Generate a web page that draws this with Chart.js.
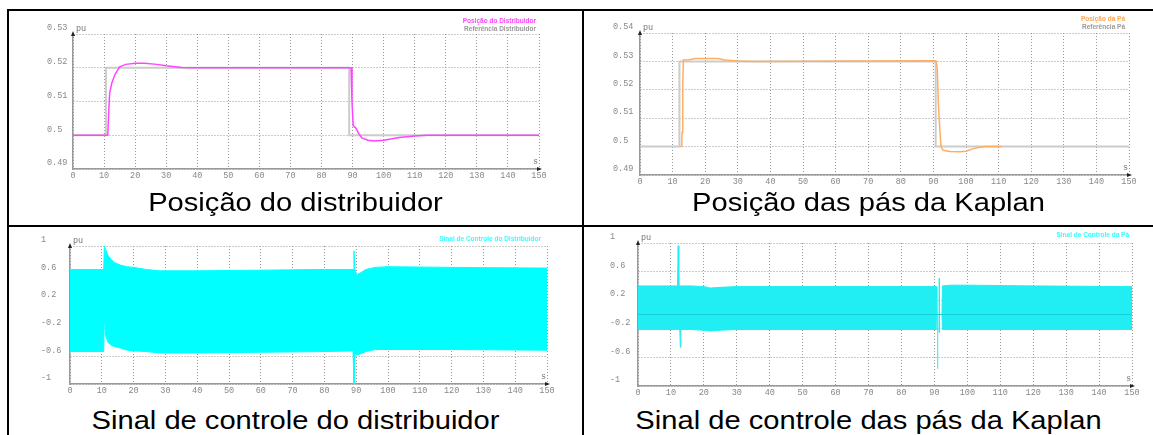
<!DOCTYPE html>
<html>
<head>
<meta charset="utf-8">
<script src="https://cdn.jsdelivr.net/npm/chart.js"></script>
<style>
  body { margin: 0; background: #fff; width: 1153px; height: 435px; overflow: hidden; position: relative; }
  canvas { position: absolute; }
  .line { position: absolute; background: #000; }
  .cap { position: absolute; font: 26px/25px "Liberation Sans", Arial, sans-serif; color: #000; text-align: center; white-space: nowrap; transform: scaleX(1.12); }
</style>
</head>
<body>
<div class="line" style="left:8px;top:9px;width:1145px;height:2px"></div>
<div class="line" style="left:7px;top:9px;width:2px;height:426px"></div>
<div class="line" style="left:582px;top:9px;width:2px;height:426px"></div>
<div class="line" style="left:8px;top:225px;width:1145px;height:2px"></div>

<canvas id="c1" width="570" height="178" style="left:10px;top:12px"></canvas>
<canvas id="c2" width="560" height="180" style="left:590px;top:12px"></canvas>
<canvas id="c3" width="570" height="172" style="left:10px;top:229px"></canvas>
<canvas id="c4" width="560" height="172" style="left:590px;top:229px"></canvas>

<div class="cap" style="left:9px;width:573px;top:190px">Posição do distribuidor</div>
<div class="cap" style="left:584px;width:569px;top:190px">Posição das pás da Kaplan</div>
<div class="cap" style="left:9px;width:573px;top:408px">Sinal de controle do distribuidor</div>
<div class="cap" style="left:584px;width:569px;top:408px">Sinal de controle das pás da Kaplan</div>

<script>
// tick labels
const xTicks = [0, 10, 20, 30, 40, 50, 60, 70, 80, 90, 100, 110, 120, 130, 140, 150];
const yTicksDist = [0.49, 0.5, 0.51, 0.52, 0.53];
const yTicksPa = [0.49, 0.5, 0.51, 0.52, 0.53, 0.54];
const yTicksSinal = [-1, -0.6, -0.2, 0.2, 0.6, 1];

// posicao do distribuidor (s, pu)
const distTime = [0, 10.9, 11.2, 11.5, 11.8, 12.5, 13.5, 15, 17, 20, 23, 27, 30, 35, 38, 89.5, 89.8, 90.2, 91, 92, 93, 95, 97, 100, 105, 110, 114, 150];
const distPos = [0.5, 0.5, 0.5, 0.507, 0.5125, 0.5155, 0.518, 0.5203, 0.521, 0.5213, 0.5213, 0.521, 0.5206, 0.5201, 0.52, 0.52, 0.51, 0.5028, 0.5022, 0.5005, 0.4992, 0.4985, 0.4983, 0.4985, 0.4993, 0.4998, 0.5, 0.5];
const distRefTime = [0, 10.6, 10.6, 88.9, 88.9, 150];
const distRef = [0.5, 0.5, 0.52, 0.52, 0.5, 0.5];

// posicao da pa
const paTime = [12.4, 12.8, 12.9, 13.1, 13.3, 15, 17, 20, 24, 26, 30, 35, 90.5, 90.9, 91.2, 91.5, 91.8, 92.3, 93, 95, 98, 100, 102, 104, 106, 110.8];
const paPos = [0.5, 0.5, 0.505, 0.5215, 0.5305, 0.5306, 0.531, 0.531, 0.531, 0.5305, 0.5301, 0.53, 0.5302, 0.53, 0.527, 0.516, 0.5094, 0.5, 0.4987, 0.4983, 0.4982, 0.4984, 0.4992, 0.4998, 0.5, 0.5];
const paRefTime = [0, 12.1, 12.1, 90.7, 90.7, 150];
const paRef = [0.5, 0.5, 0.53, 0.53, 0.5, 0.5];

// sinal de controle do distribuidor (envoltoria)
const sinalDistTime = [0, 10.6, 10.8, 11.2, 12, 13, 14, 16, 18, 20, 24, 28, 40, 60, 80, 89, 89.3, 89.6, 90.2, 91, 93, 96, 100, 120, 150];
const sinalDistMax = [0.66, 0.66, 1.0, 0.95, 0.86, 0.8, 0.76, 0.72, 0.7, 0.69, 0.66, 0.64, 0.64, 0.65, 0.66, 0.66, 0.93, 0.66, 0.58, 0.6, 0.66, 0.69, 0.7, 0.69, 0.68];
const sinalDistMin = [-0.53, -0.53, -0.02, -0.3, -0.4, -0.44, -0.46, -0.48, -0.51, -0.52, -0.53, -0.55, -0.55, -0.54, -0.53, -0.52, -1.0, -0.55, -0.58, -0.57, -0.53, -0.5, -0.5, -0.5, -0.51];

// sinal de controle da pa (envoltoria)
const sinalPaTime = [0, 12.0, 12.2, 12.4, 12.7, 12.85, 13.0, 16, 20, 22, 25, 30, 50, 70, 90.6, 90.75, 92.3, 92.45, 95, 100, 120, 150];
const sinalPaMax = [0.4, 0.4, 0.96, 0.4, 0.4, 0.4, 0.4, 0.4, 0.39, 0.37, 0.38, 0.39, 0.39, 0.39, 0.39, 0.0, 0.0, 0.4, 0.41, 0.41, 0.4, 0.39];
const sinalPaMin = [-0.21, -0.21, -0.21, -0.21, -0.21, -0.46, -0.21, -0.21, -0.22, -0.23, -0.22, -0.21, -0.21, -0.21, -0.21, 0.0, 0.0, -0.21, -0.21, -0.21, -0.21, -0.21];
const sinalPaPicoTime = [91.0, 91.0, 91.3, 91.5, 91.5];
const sinalPaPico = [-0.76, 0.0, null, 0.51, -0.25];
const sinalPaCentroTime = [0, 150];
const sinalPaCentro = [0, 0];

const pts = (t, v) => t.map((x, i) => ({ x: x, y: v[i] }));

// setas, unidades e legenda
const decor = {
  id: "decor",
  afterDraw(chart, args, opts) {
    const { ctx, chartArea: a } = chart;
    ctx.save();
    ctx.fillStyle = "#222";
    ctx.beginPath();
    ctx.moveTo(a.left, a.top - 3);
    ctx.lineTo(a.left - 2, a.top + 2);
    ctx.lineTo(a.left + 2, a.top + 2);
    ctx.fill();
    ctx.beginPath();
    ctx.moveTo(a.right + 3, a.bottom);
    ctx.lineTo(a.right - 2, a.bottom - 2);
    ctx.lineTo(a.right - 2, a.bottom + 2);
    ctx.fill();

    ctx.font = '8.5px "Liberation Mono", monospace';
    ctx.fillStyle = "#777";
    ctx.textAlign = "left";
    ctx.fillText("pu", a.left + 3, a.top - 3);
    ctx.textAlign = "right";
    ctx.fillText("s", a.right - 1, a.bottom - 5);

    ctx.font = 'bold 6.5px "Liberation Sans", Arial, sans-serif';
    chart.data.datasets
      .filter((d) => d.legendColor)
      .forEach((d, i) => {
        ctx.fillStyle = d.legendColor;
        ctx.fillText(d.label, a.right + opts.dx, a.top + opts.dy + i * 8);
      });
    ctx.restore();
  },
};

const axisFont = { family: '"Liberation Mono", monospace', size: 8.5 };

function makeChart(id, datasets, yTicks, yMin, yMax, decimals, box) {
  const grid = { color: "#999", lineWidth: 1, drawTicks: false };
  const border = { display: true, color: "#999", width: 1.5, dash: [1, 2] };
  return new Chart(document.getElementById(id), {
    type: "line",
    data: { datasets: datasets },
    options: {
      responsive: false,
      animation: false,
      layout: { padding: { left: box.pl, top: box.pt, right: box.pr, bottom: box.pb } },
      elements: { point: { radius: 0 }, line: { tension: 0 } },
      scales: {
        x: {
          type: "linear",
          min: 0,
          max: 150,
          grid: grid,
          border: border,
          afterBuildTicks: (s) => { s.ticks = xTicks.map((v) => ({ value: v })); },
          afterFit: (s) => { s.height = 14; },
          ticks: { font: axisFont, color: "#888", padding: 2, maxRotation: 0, autoSkip: false },
        },
        y: {
          type: "linear",
          min: yMin,
          max: yMax,
          grid: grid,
          border: border,
          afterBuildTicks: (s) => { s.ticks = yTicks.map((v) => ({ value: v })); },
          afterFit: (s) => { s.width = box.yw; },
          ticks: {
            font: axisFont,
            color: "#888",
            crossAlign: "far",
            labelOffset: -6,
            autoSkip: false,
            callback: (v) => String(+v.toFixed(decimals)),
          },
        },
      },
      plugins: {
        legend: { display: false },
        tooltip: { enabled: false },
        decor: { dx: box.lx, dy: box.ly },
      },
    },
    plugins: [decor],
  });
}

makeChart("c1", [
  { label: "Posição do Distribuidor", data: pts(distTime, distPos), borderColor: "#ff44ff", borderWidth: 1.5, legendColor: "#ff44ff" },
  { label: "Referência Distribuidor", data: pts(distRefTime, distRef), borderColor: "#cccccc", borderWidth: 2, legendColor: "#999" },
], yTicksDist, 0.49, 0.53, 2, { pl: 37, pt: 22, pr: 41, pb: 7, yw: 26, lx: -3, ly: -11 });

makeChart("c2", [
  { label: "Posição da Pá", data: pts(paTime, paPos), borderColor: "#ffad60", borderWidth: 1.5, legendColor: "#ffa64d" },
  { label: "Referência Pá", data: pts(paRefTime, paRef), borderColor: "#cccccc", borderWidth: 2, legendColor: "#999" },
], yTicksPa, 0.49, 0.54, 2, { pl: 23, pt: 21, pr: 21, pb: 3, yw: 27, lx: -4, ly: -12 });

makeChart("c3", [
  { label: "Sinal de Controle do Distribuidor", data: pts(sinalDistTime, sinalDistMax), borderColor: "#00ffff", backgroundColor: "#00ffff", borderWidth: 1, fill: "+1", legendColor: "#33ffff" },
  { data: pts(sinalDistTime, sinalDistMin), borderColor: "#00ffff", borderWidth: 1, fill: false },
], yTicksSinal, -1, 1, 1, { pl: 31, pt: 17, pr: 33, pb: 3, yw: 29, lx: -6, ly: -5 });

makeChart("c4", [
  { data: pts(sinalPaCentroTime, sinalPaCentro), borderColor: "rgba(0,150,170,0.35)", borderWidth: 1, fill: false },
  { data: pts(sinalPaPicoTime, sinalPaPico), borderColor: "#20eef2", borderWidth: 1, fill: false, spanGaps: false },
  { label: "Sinal de Controle da Pá", data: pts(sinalPaTime, sinalPaMax), borderColor: "#20eef2", backgroundColor: "#20eef2", borderWidth: 1, fill: "+1", legendColor: "#33ffff" },
  { data: pts(sinalPaTime, sinalPaMin), borderColor: "#20eef2", borderWidth: 1, fill: false },
], yTicksSinal, -1, 1, 1, { pl: 20, pt: 14, pr: 18, pb: 1, yw: 28, lx: -3, ly: -6 });
</script>
</body>
</html>
